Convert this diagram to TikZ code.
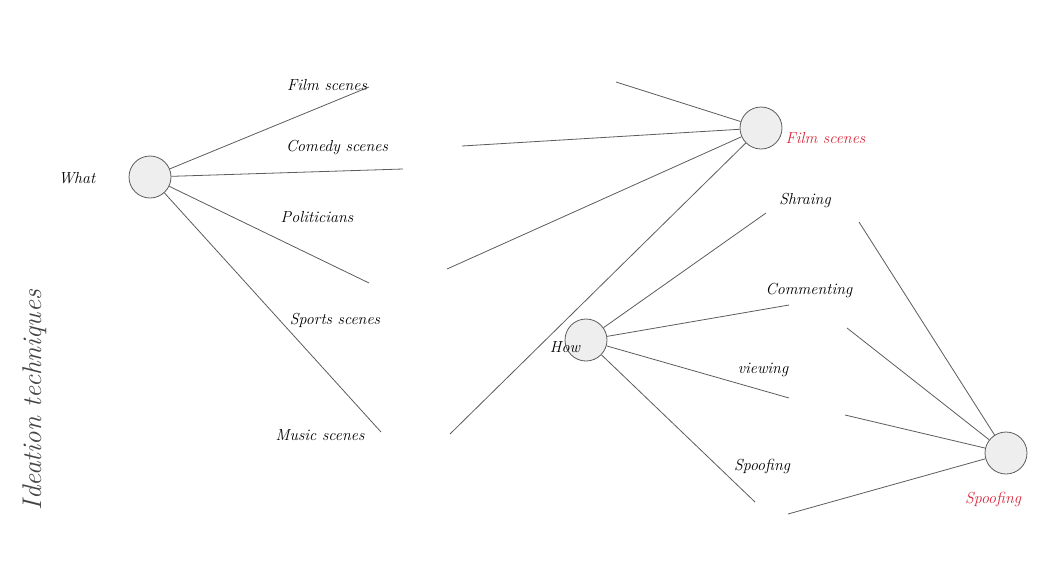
\documentclass[tikz,border=0pt]{standalone}
\usepackage{tikz}
\usepackage{xcolor}

\definecolor{linegray}{HTML}{5C5C5C}
\definecolor{hubfill}{HTML}{EEEEEE}
\definecolor{hubred}{HTML}{D8283A}
\definecolor{titlegray}{HTML}{444444}

\begin{document}
\begin{tikzpicture}[x=1pt, y=-1pt,
    hub/.style={circle, draw=linegray, fill=hubfill, line width=0.8pt, minimum size=42pt, inner sep=0pt},
    branch/.style={draw=linegray, line width=0.8pt},
    lbl/.style={font=\fontsize{16}{19}\selectfont\itshape},
    redlbl/.style={lbl, text=hubred}]
    \useasboundingbox (0,0) rectangle (1048,584);

    % hubs
    \node[hub] (what) at (150,177) {};
    \node[hub] (film) at (761,128) {};
    \node[hub] (how) at (586,340) {};
    \node[hub] (spoof) at (1006,453) {};

    % free ends
    \coordinate (wfilm) at (369,87);
    \coordinate (wcomedy) at (403,169);
    \coordinate (wpolit) at (369,283);
    \coordinate (wmusic) at (381,432);
    \coordinate (fa) at (616,82);
    \coordinate (fb) at (462,146);
    \coordinate (fc) at (447,269);
    \coordinate (fd) at (450,434);
    \coordinate (hshare) at (766,213);
    \coordinate (hcomment) at (789,305);
    \coordinate (hview) at (789,398);
    \coordinate (hspoof) at (755,502);
    \coordinate (sa) at (859,222);
    \coordinate (sb) at (847,328);
    \coordinate (sc) at (845,415);
    \coordinate (sd) at (788,514);

    % connectors
    \foreach \e in {wfilm, wcomedy, wpolit, wmusic}
        \draw[branch] (what) -- (\e);
    \foreach \e in {fa, fb, fc, fd}
        \draw[branch] (\e) -- (film);
    \foreach \e in {hshare, hcomment, hview, hspoof}
        \draw[branch] (how) -- (\e);
    \foreach \e in {sa, sb, sc, sd}
        \draw[branch] (\e) -- (spoof);

    % labels
    \node[lbl] (whatlbl) at (77,178) {What};
    \node[lbl] (filmlbl) at (327,85) {Film scenes};
    \node[lbl] (comedylbl) at (337,147) {Comedy scenes};
    \node[lbl] (politlbl) at (317,217) {Politicians};
    \node[lbl] (sportslbl) at (335,320) {Sports scenes};
    \node[lbl] (musiclbl) at (320,435) {Music scenes};
    \node[redlbl, anchor=west] (filmred) at (782,138) {Film scenes};
    \node[lbl] (sharelbl) at (805,200) {Shraing};
    \node[lbl] (commentlbl) at (809,290) {Commenting};
    \node[lbl] (viewlbl) at (763,370) {viewing};
    \node[lbl] (spooflbl) at (762,466) {Spoofing};
    \node[lbl] (howlbl) at (565,347) {How};
    \node[redlbl] (spoofred) at (993,499) {Spoofing};
    \node[font=\fontsize{27}{30}\selectfont\itshape, text=titlegray, rotate=90] (title) at (35,400) {Ideation techniques};
\end{tikzpicture}
\end{document}
